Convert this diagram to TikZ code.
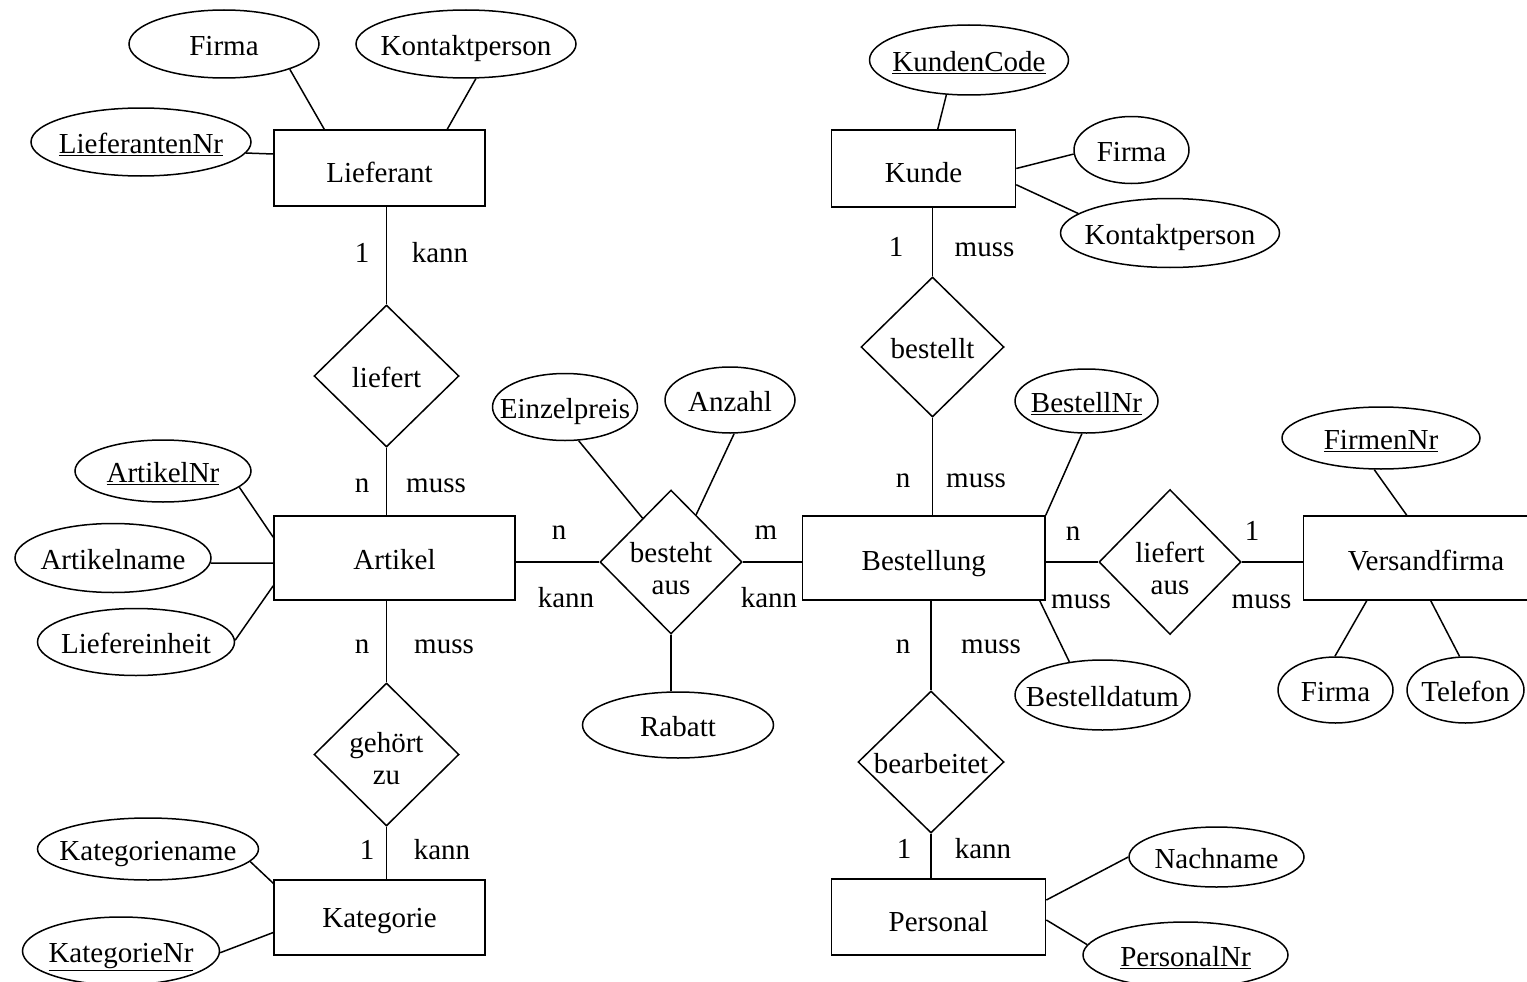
\documentclass[tikz,border=0pt]{standalone}
\usepackage{fontspec}
\setmainfont{Liberation Serif}
\usetikzlibrary{shapes.geometric,calc}
\newcommand{\tx}[2][4pt]{\makebox[0pt]{\raisebox{\dimexpr-7.25pt-#1\relax}[0pt][0pt]{\begin{tabular}{@{}c@{}}#2\end{tabular}}}}
\begin{document}
\begin{tikzpicture}[x=1pt,y=-1pt,
  every node/.style={font=\fontsize{29}{32}\selectfont, inner sep=0pt},
  entity/.style={draw, rectangle, line width=1.5pt},
  relation/.style={draw, diamond, line width=1.5pt},
  attr/.style={draw, ellipse, line width=1.5pt},
  conn/.style={line width=1.5pt},
  card/.style={text height=20pt, text depth=0pt, anchor=center}
]
\useasboundingbox (0,0) rectangle (1527,982);

% entities
\node[entity, minimum width=211pt, minimum height=76pt] (lief) at (379.5,168) {\tx[7pt]{Lieferant}};
\node[entity, minimum width=184pt, minimum height=77pt] (kunde) at (923.5,168.5) {\tx[7pt]{Kunde}};
\node[entity, minimum width=241pt, minimum height=84pt] (artikel) at (394.5,558) {\tx[4pt]{Artikel}};
\node[entity, minimum width=242.5pt, minimum height=84pt] (bestellung) at (923.75,558) {\tx[5pt]{Bestellung}};
\node[entity, minimum width=237pt, minimum height=84pt] (versand) at (1422,558) {\hspace*{8pt}\tx[5pt]{Versandfirma}};
\node[entity, minimum width=211pt, minimum height=75pt] (kat) at (379.5,917.5) {\tx[3pt]{Kategorie}};
\node[entity, minimum width=214pt, minimum height=76pt] (personal) at (938.6,917) {\tx[7pt]{Personal}};

% relations
\node[relation, minimum width=145pt, minimum height=142pt] (liefert) at (386.5,376) {\tx{liefert}};
\node[relation, minimum width=145pt, minimum height=143pt] (gz) at (386.5,754.5) {\tx[7pt]{gehört\\zu}};
\node[relation, minimum width=142pt, minimum height=144pt] (besteht) at (671,562) {\tx[9pt]{besteht\\aus}};
\node[relation, minimum width=143pt, minimum height=140pt] (bestellt) at (932.5,347) {\tx{bestellt}};
\node[relation, minimum width=142pt, minimum height=145pt] (la) at (1170,562) {\tx[9pt]{liefert\\aus}};
\node[relation, minimum width=146pt, minimum height=142pt] (bearb) at (931,762) {\tx{bearbeitet}};

% attributes
\node[attr, minimum width=190pt, minimum height=68pt] (l_firma) at (224,44) {\tx{Firma}};
\node[attr, minimum width=220pt, minimum height=68pt] (l_kontakt) at (466,44) {\tx{Kontaktperson}};
\node[attr, minimum width=220pt, minimum height=68pt] (l_nr) at (141,142) {\tx{\underline{LieferantenNr}}};
\node[attr, minimum width=176pt, minimum height=62pt] (a_nr) at (163,471) {\tx{\underline{ArtikelNr}}};
\node[attr, minimum width=196pt, minimum height=69pt] (a_name) at (113,558) {\tx{Artikelname}};
\node[attr, minimum width=197pt, minimum height=67pt] (a_einheit) at (136,642) {\tx{Liefereinheit}};
\node[attr, minimum width=221pt, minimum height=62pt] (k_name) at (148,849) {\tx{Kategoriename}};
\node[attr, minimum width=197pt, minimum height=68pt] (k_nr) at (121,951) {\tx{\underline{KategorieNr}}};
\node[attr, minimum width=145pt, minimum height=67pt] (einzelpreis) at (565,407) {\tx{Einzelpreis}};
\node[attr, minimum width=130pt, minimum height=66pt] (anzahl) at (730,400) {\tx{Anzahl}};
\node[attr, minimum width=191pt, minimum height=66pt] (rabatt) at (678,725) {\tx{Rabatt}};
\node[attr, minimum width=199pt, minimum height=70pt] (kundencode) at (969,60) {\tx{\underline{KundenCode}}};
\node[attr, minimum width=115pt, minimum height=67pt] (ku_firma) at (1131.5,150) {\tx{Firma}};
\node[attr, minimum width=219pt, minimum height=69pt] (ku_kontakt) at (1170,233) {\tx{Kontaktperson}};
\node[attr, minimum width=143pt, minimum height=64pt] (bestellnr) at (1086.5,401) {\tx{\underline{BestellNr}}};
\node[attr, minimum width=175pt, minimum height=70pt] (bestelldatum) at (1102.5,695) {\tx{Bestelldatum}};
\node[attr, minimum width=198pt, minimum height=62pt] (firmennr) at (1381,438) {\tx{\underline{FirmenNr}}};
\node[attr, minimum width=115pt, minimum height=66pt] (v_firma) at (1335.5,690) {\tx{Firma}};
\node[attr, minimum width=117pt, minimum height=66pt] (telefon) at (1465.5,690) {\tx{Telefon}};
\node[attr, minimum width=175pt, minimum height=60pt] (nachname) at (1216.5,857) {\tx{Nachname}};
\node[attr, minimum width=205pt, minimum height=66pt] (personalnr) at (1185.5,955) {\tx{\underline{PersonalNr}}};

% cardinality labels
\node[card] (c_l1) at (362,252) {1};
\node[card] (c_lkann) at (440,252) {kann};
\node[card] (c_an) at (362,482) {n};
\node[card] (c_amuss) at (436,482) {muss};
\node[card] (c_an2) at (362,643) {n};
\node[card] (c_amuss2) at (444,643) {muss};
\node[card] (c_k1) at (367,849) {1};
\node[card] (c_kkann) at (442,849) {kann};
\node[card] (c_bn) at (559,529) {n};
\node[card] (c_bkann) at (566,597) {kann};
\node[card] (c_bm) at (766,529) {m};
\node[card] (c_bkann2) at (769,597) {kann};
\node[card] (c_ku1) at (896,246) {1};
\node[card] (c_kumuss) at (984.5,246) {muss};
\node[card] (c_ben) at (903,477) {n};
\node[card] (c_bemuss) at (976,477) {muss};
\node[card] (c_bn2) at (903,643) {n};
\node[card] (c_bmuss2) at (991,643) {muss};
\node[card] (c_p1) at (904,848) {1};
\node[card] (c_pkann) at (983,848) {kann};
\node[card] (c_lan) at (1073,530) {n};
\node[card] (c_lamuss) at (1081,598) {muss};
\node[card] (c_la1) at (1252,530) {1};
\node[card] (c_lamuss2) at (1261.5,598) {muss};

% connectors
\draw[conn] (l_firma.-21) -- ($(lief.north west)+(51,0)$);
\draw[conn] (l_kontakt.-74) -- ($(lief.north west)+(174,0)$);
\draw[conn] (l_nr.-6) -- ($(lief.west)+(0,-14)$);
\draw[conn] (lief.south -| liefert.north) -- (liefert.north);
\draw[conn] (liefert.south) -- (liefert.south |- artikel.north);
\draw[conn] (a_nr.-12) -- ($(artikel.north west)+(0,22)$);
\draw[conn] (a_name.-3) -- ($(artikel.west)+(0,5)$);
\draw[conn] (a_einheit.1) -- ($(artikel.south west)+(0,-15)$);
\draw[conn] (artikel.south -| gz.north) -- (gz.north);
\draw[conn] (gz.south) -- (gz.south |- kat.north);
\draw[conn] (k_name.-7) -- ($(kat.north west)+(0,4)$);
\draw[conn] (k_nr.-1) -- ($(kat.west)+(0,15)$);
\draw[conn] (besteht.west -| artikel.east) -- (besteht.west);
\draw[conn] (besteht.east) -- (besteht.east -| bestellung.west);
\draw[conn] (einzelpreis.-68) -- (besteht.123);
\draw[conn] (anzahl.-83) -- (besteht.62);
\draw[conn] (besteht.south) -- (besteht.south |- rabatt.north);
\draw[conn] (kunde.south -| bestellt.north) -- (bestellt.north);
\draw[conn] (kundencode.237) -- ($(kunde.north west)+(107,0)$);
\draw[conn] (ku_firma.184) -- (kunde.east);
\draw[conn] (ku_kontakt.168) -- ($(kunde.south east)+(0,-23)$);
\draw[conn] (bestellt.south) -- (bestellt.south |- bestellung.north);
\draw[conn] (bestellnr.262) -- (bestellung.north east);
\draw[conn] (bestelldatum.135) -- ($(bestellung.south east)+(-6,0)$);
\draw[conn] (bestellung.south -| bearb.north) -- (bearb.north);
\draw[conn] (bearb.south) -- (bearb.south |- personal.north);
\draw[conn] (la.west -| bestellung.east) -- (la.west);
\draw[conn] (la.east) -- (la.east -| versand.west);
\draw[conn] (firmennr.258) -- ($(versand.north west)+(104,0)$);
\draw[conn] (v_firma.91) -- ($(versand.south west)+(64,0)$);
\draw[conn] (telefon.100) -- ($(versand.south west)+(128,0)$);
\draw[conn] (nachname.180) -- ($(personal.east)+(0,-17)$);
\draw[conn] (personalnr.174) -- ($(personal.east)+(0,3)$);
\end{tikzpicture}
\end{document}
